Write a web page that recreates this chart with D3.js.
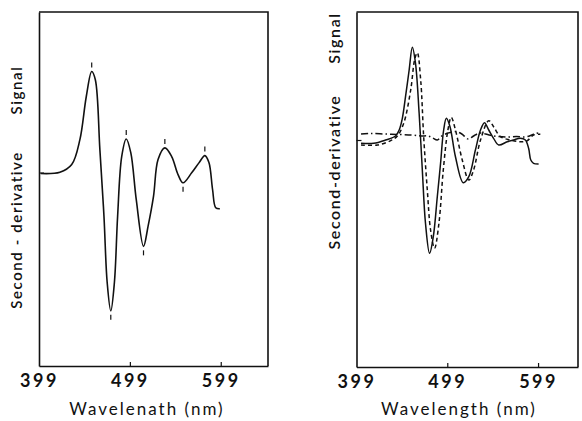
<!DOCTYPE html>
<html>
<head>
<meta charset="utf-8">
<script src="https://cdn.jsdelivr.net/npm/d3@7"></script>
<style>
  html, body { margin: 0; padding: 0; background: #fff; }
  svg { display: block; }
  text { fill: #111; }
</style>
</head>
<body>
<script>
// Wavelength ticks shared by both panels (nm)
const tickValues = [399, 499, 599];

// Panel A: single second-derivative spectrum
const leftWavelength = [401, 422, 435, 444, 451, 457, 461, 466, 470.5, 474, 478, 482, 485.5, 490, 495, 500, 506, 514, 519, 525, 530, 537.5, 545, 552, 557.5, 567, 575, 581.5, 586, 590, 593.5, 598];
const leftSignal = [-0.1, 0.03, 0.8, 3.3, 7.6, 10.13, 9.3, 2.3, -4.4, -11, -13.87, -11, -4.4, 1.6, 3.37, 2.0, -2.7, -7.4, -5.4, -2.4, 1.3, 2.47, 1.6, -0.2, -1.03, -0.03, 0.97, 1.7, 1.0, -1.7, -3.53, -3.63];
// Marked extrema of panel A: +1 peak (mark above), -1 trough (mark below)
const leftMarkWavelength = [457, 478, 495, 514, 537.5, 557.5, 581.5];
const leftMarkSide = [1, -1, 1, -1, 1, -1, 1];

// Panel B: three overlaid spectra
const solidWavelength = [404, 418, 431, 442, 446, 449.5, 453, 457, 460.5, 464, 468, 471.5, 475, 479.5, 483.6, 488, 491.6, 495, 498, 502, 508, 516.6, 522.7, 530, 535.6, 540, 544.7, 550, 555.7, 565, 572, 579.5, 585, 588.6, 591, 594, 599.6];
const solidSignal = [-0.33, -0.33, 0, 0.4, 1.0, 2.17, 4.33, 7.0, 9.27, 7.67, 2.67, -3.0, -8.33, -11.33, -9.67, -5.67, -2.33, 1.0, 2.17, 1.33, -1.67, -4.27, -3.67, -1.0, 1.0, 1.73, 1.0, 0.17, -0.5, -0.17, 0, 0.17, 0, -0.83, -2.0, -2.33, -2.4];

const dashedWavelength = [404, 422, 436.7, 444, 451, 458.7, 463, 466, 469.7, 473, 477, 480.6, 485, 489.8, 494.6, 499.7, 503.4, 508, 515.5, 522.7, 528, 535.6, 544.7, 550, 557.6, 568.6, 579.5, 587, 594, 601.5];
const dashedSignal = [-0.5, -0.5, -0.07, 0.4, 1.67, 5.0, 8.0, 8.73, 6.0, 0.33, -5.0, -9.0, -10.83, -8.33, -3.0, 1.0, 2.27, 1.0, -2.0, -4.0, -3.0, 0, 1.93, 1.33, 0.33, 0, -0.17, -0.07, 0.5, 0.57];

const dashDotWavelength = [404, 415, 430, 445, 460, 470, 478, 483, 488, 493, 500, 508, 515, 522, 528, 535, 545, 555, 565, 575, 585, 592, 597, 602];
const dashDotSignal = [0.6, 0.65, 0.6, 0.55, 0.5, 0.4, 0.4, 0.2, 0, 0.4, 0.7, 0.85, 0.6, 0.1, 0.4, 0.7, 0.5, 0.35, 0.3, 0.35, 0.3, 0.5, 0.7, 0.6];

const W = 582, H = 421;
const svg = d3.select("body").append("svg").attr("width", W).attr("height", H);
svg.append("rect").attr("width", W).attr("height", H).attr("fill", "#fff");

const ink = "#111";
const font = "Lato, 'DejaVu Sans', sans-serif";

function zip(xs, ys) { return xs.map((x, i) => [x, ys[i]]); }

function panel(opts) {
  const x = d3.scaleLinear().domain(opts.xDomain).range(opts.xRange);
  const y = d3.scaleLinear().domain(opts.yDomain).range(opts.yRange);
  const g = svg.append("g");

  // frame: top and right edges
  const [x0, x1] = opts.xRange, [yb, yt] = opts.yRange;
  g.append("path")
    .attr("d", `M${x0},${yt}H${x1}V${yb}`)
    .attr("fill", "none").attr("stroke", ink).attr("stroke-width", 1.6);

  // bottom wavelength axis
  const xAxis = d3.axisBottom(x).tickValues(tickValues)
    .tickSizeInner(-4).tickSizeOuter(0).tickPadding(8)
    .tickFormat(d3.format("d"));
  const gx = g.append("g").attr("transform", `translate(0,${yb})`).call(xAxis);
  gx.select(".domain").attr("stroke", ink).attr("stroke-width", 1.6);
  gx.selectAll(".tick line").attr("stroke", ink).attr("stroke-width", 1.2);
  gx.selectAll(".tick text")
    .attr("font-family", font).attr("font-weight", 700)
    .attr("font-size", 18).attr("letter-spacing", 2.5).attr("fill", ink);
  gx.selectAll(".tick").filter(d => d === opts.xDomain[0]).select("line").remove();

  // left signal axis with a single baseline tick
  const yAxis = d3.axisLeft(y).tickValues([0]).tickSizeInner(-5).tickSizeOuter(0).tickFormat("");
  const gy = g.append("g").attr("transform", `translate(${x0},0)`).call(yAxis);
  gy.select(".domain").attr("stroke", ink).attr("stroke-width", 1.6);
  gy.selectAll(".tick line").attr("stroke", ink).attr("stroke-width", 1.2);

  // axis titles
  g.append("text")
    .attr("x", opts.xTitleX).attr("y", 415)
    .attr("text-anchor", "middle")
    .attr("font-family", font).attr("font-size", 17).attr("letter-spacing", 2)
    .text(opts.xTitle);
  opts.yTitles.forEach(t => {
    g.append("text")
      .attr("transform", `translate(${opts.yTitleX},${t.at}) rotate(-90)`)
      .attr("text-anchor", "middle").attr("dominant-baseline", "central")
      .attr("font-family", font).attr("font-size", opts.yTitleSize)
      .attr("font-weight", 600).attr("letter-spacing", 1.6)
      .text(t.label);
  });

  return { g, x, y };
}

// ---- Panel A ----
const A = panel({
  xDomain: [399, 651], xRange: [39, 268],
  yDomain: [-19.4, 16.1], yRange: [366, 12],
  xTitle: "Wavelenath (nm)", xTitleX: 147,
  yTitleX: 16, yTitleSize: 15,
  yTitles: [{ label: "Second - derivative", at: 230 }, { label: "Signal", at: 90 }]
});

const lineA = d3.line().x(d => A.x(d[0])).y(d => A.y(d[1])).curve(d3.curveCatmullRom.alpha(0.5));
A.g.append("path").datum(zip(leftWavelength, leftSignal))
  .attr("d", lineA).attr("fill", "none").attr("stroke", ink).attr("stroke-width", 1.6);

// short marks just above each peak / below each trough
leftMarkWavelength.forEach((wl, i) => {
  const k = leftWavelength.indexOf(wl);
  const py = A.y(leftSignal[k]);
  const s = leftMarkSide[i];
  A.g.append("line")
    .attr("x1", A.x(wl)).attr("x2", A.x(wl))
    .attr("y1", py - s * 4).attr("y2", py - s * 9)
    .attr("stroke", ink).attr("stroke-width", 1.2);
});

// ---- Panel B ----
const B = panel({
  xDomain: [399, 643], xRange: [356.5, 578],
  yDomain: [-22.7, 12.8], yRange: [367, 12],
  xTitle: "Wavelength (nm)", xTitleX: 459,
  yTitleX: 333, yTitleSize: 16,
  yTitles: [{ label: "Second-derivative", at: 172 }, { label: "Signal", at: 38 }]
});

const lineB = d3.line().x(d => B.x(d[0])).y(d => B.y(d[1])).curve(d3.curveCatmullRom.alpha(0.5));
[
  { xs: dashDotWavelength, ys: dashDotSignal, dash: "7,3,1.5,3" },
  { xs: dashedWavelength, ys: dashedSignal, dash: "4,3" },
  { xs: solidWavelength, ys: solidSignal, dash: null }
].forEach(s => {
  B.g.append("path").datum(zip(s.xs, s.ys))
    .attr("d", lineB).attr("fill", "none").attr("stroke", ink)
    .attr("stroke-width", 1.5)
    .attr("stroke-dasharray", s.dash);
});
</script>
</body>
</html>
